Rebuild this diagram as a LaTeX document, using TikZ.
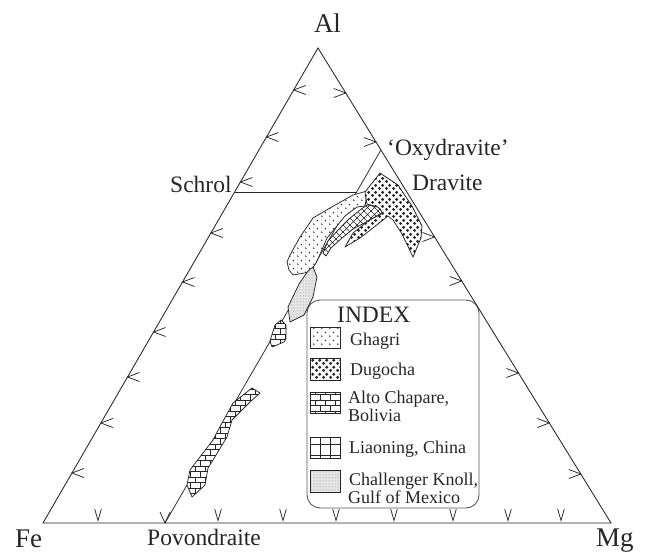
\documentclass[tikz,border=0pt]{standalone}
\usepackage{fontspec}
\setmainfont{Liberation Serif}
\usetikzlibrary{patterns,calc}
\definecolor{ink}{gray}{0.15}
\newcommand\cornerfont{\fontsize{27}{30}\selectfont}
\newcommand\sidefont{\fontsize{23.5}{26}\selectfont}
\newcommand\legfont{\fontsize{18}{20}\selectfont}

\pgfdeclarepatternformonly{ghagri}{\pgfqpoint{0pt}{0pt}}{\pgfqpoint{8pt}{8pt}}{\pgfqpoint{8pt}{8pt}}{%
 \pgfpathcircle{\pgfqpoint{2pt}{2pt}}{0.85pt}%
 \pgfpathcircle{\pgfqpoint{6pt}{6pt}}{0.85pt}%
 \pgfusepath{fill}}
\pgfdeclarepatternformonly{dugocha}{\pgfqpoint{0pt}{0pt}}{\pgfqpoint{7pt}{7pt}}{\pgfqpoint{7pt}{7pt}}{%
 \pgfpathcircle{\pgfqpoint{1.75pt}{1.75pt}}{1.8pt}%
 \pgfpathcircle{\pgfqpoint{5.25pt}{5.25pt}}{1.8pt}%
 \pgfusepath{fill}}
\pgfdeclarepatternformonly{brick}{\pgfqpoint{-0.5pt}{-0.5pt}}{\pgfqpoint{10.5pt}{11.5pt}}{\pgfqpoint{10pt}{11pt}}{%
 \pgfsetlinewidth{0.6pt}%
 \pgfpathmoveto{\pgfqpoint{-0.5pt}{0pt}}\pgfpathlineto{\pgfqpoint{10.5pt}{0pt}}%
 \pgfpathmoveto{\pgfqpoint{-0.5pt}{5.5pt}}\pgfpathlineto{\pgfqpoint{10.5pt}{5.5pt}}%
 \pgfpathmoveto{\pgfqpoint{0pt}{0pt}}\pgfpathlineto{\pgfqpoint{0pt}{5.5pt}}%
 \pgfpathmoveto{\pgfqpoint{5pt}{5.5pt}}\pgfpathlineto{\pgfqpoint{5pt}{11pt}}%
 \pgfusepath{stroke}}
\pgfdeclarepatternformonly{lgrid}{\pgfqpoint{-0.5pt}{-0.5pt}}{\pgfqpoint{10.5pt}{11.5pt}}{\pgfqpoint{10pt}{11pt}}{%
 \pgfsetlinewidth{0.6pt}%
 \pgfpathmoveto{\pgfqpoint{-0.5pt}{0pt}}\pgfpathlineto{\pgfqpoint{10.5pt}{0pt}}%
 \pgfpathmoveto{\pgfqpoint{0pt}{-0.5pt}}\pgfpathlineto{\pgfqpoint{0pt}{11.5pt}}%
 \pgfusepath{stroke}}
\pgfdeclarepatternformonly{xhatch}{\pgfqpoint{-0.5pt}{-0.5pt}}{\pgfqpoint{7.5pt}{7.5pt}}{\pgfqpoint{7pt}{7pt}}{%
 \pgfsetlinewidth{0.6pt}%
 \pgfpathmoveto{\pgfqpoint{-0.5pt}{-0.5pt}}\pgfpathlineto{\pgfqpoint{7.5pt}{7.5pt}}%
 \pgfpathmoveto{\pgfqpoint{-0.5pt}{7.5pt}}\pgfpathlineto{\pgfqpoint{7.5pt}{-0.5pt}}%
 \pgfusepath{stroke}}
\pgfdeclarepatternformonly{stipple}{\pgfqpoint{0pt}{0pt}}{\pgfqpoint{2.5pt}{2.5pt}}{\pgfqpoint{2.5pt}{2.5pt}}{%
 \pgfpathcircle{\pgfqpoint{1.25pt}{1.25pt}}{0.55pt}%
 \pgfusepath{fill}}

\begin{document}
\begin{tikzpicture}[x=1pt,y=-1pt,
  side/.style={draw=ink,line width=0.85pt},
  tick/.style={draw=ink,line width=0.75pt},
  poly/.style={draw=ink,line width=0.75pt,line join=round,preaction={fill=white}},
  chall/.style={draw=ink,line width=0.75pt,line join=round,preaction={fill=black!10}},
  swatch/.style={draw=ink,line width=0.7pt},
  lab/.style={inner sep=0pt,text=ink},
  leg/.style={lab,font=\legfont,anchor=base west}]
\useasboundingbox (0,0) rectangle (646,554);

% corners
\coordinate (Al) at (318,48);
\coordinate (Fe) at (43,523);
\coordinate (Mg) at (611,523);
\coordinate (Po) at (165,523);
\coordinate (Ox) at (380.9,150);
\coordinate (Sc) at ({318-144*0.5789},192);
\coordinate (Sj) at (356.6,192);

% index box
\draw[draw=black!65,line width=0.9pt,rounded corners=13pt] (307,300) rectangle (479,508);

% triangle and internal lines
\draw[side] (Al) -- (Fe) -- (Mg) -- cycle;
\draw[side,line width=0.75pt] (Ox) -- (Po);
\draw[side,line width=0.75pt] (Sc) -- (Sj);

% ticks on left side
\foreach \yy in {90,137,182,233,282,332,377,423,473}
  \draw[tick] ({318-(\yy-48)*0.5789+12},{\yy-4.5}) -- ({318-(\yy-48)*0.5789},\yy) -- ++(12,4.5);
% ticks on right side
\foreach \yy in {93,142,237,281,373,423,474}
  \draw[tick] ({318+(\yy-48)*0.6168-12},{\yy-4.5}) -- ({318+(\yy-48)*0.6168},\yy) -- ++(-12,4.5);
% ticks on base
\foreach \xx in {98,218,283,336,394,453,508,561}
  \draw[tick] (\xx-3.3,509) -- (\xx,520.5) -- (\xx+3.3,509);
\draw[tick] (160,512) -- (Po) -- (170,512);

% Ghagri
\draw[poly,pattern=ghagri,pattern color=ink] (287,262) -- (290,255) -- (300,237) -- (313,218) -- (330,208) -- (353,195) -- (367,191) -- (366,200) -- (365,206) -- (357,207) -- (345,216) -- (337,226) -- (327,238) -- (321,252) -- (316,263) -- (310,272) -- (293,275) -- (289,270) -- cycle;
% Liaoning
\draw[poly,pattern=xhatch,pattern color=ink] (323,253) -- (328,241) -- (340,228) -- (349,219) -- (360,210) -- (367,205) -- (378,207) -- (383,212) -- (370,220) -- (353,229) -- (342,238) -- (331,248) -- (326,256) -- cycle;
% Dugocha
\draw[poly,pattern=dugocha,pattern color=ink] (380,173) -- (398,185) -- (412,206) -- (422,226) -- (421,238) -- (413,257) -- (402,234) -- (393,220) -- (388,216) -- (378,224) -- (360,238) -- (345,247) -- (353,233) -- (368,221) -- (383,213) -- (378,207) -- (367,204) -- (365,192) -- cycle;
% Challenger Knoll
\draw[chall,pattern=stipple,pattern color=black!50] (313,267) -- (317,277) -- (313,297) -- (304,315) -- (290,322) -- (288,307) -- (299,284) -- (308,271) -- cycle;
% Alto Chapare (small)
\draw[poly,pattern=brick,pattern color=ink] (281,320) -- (286,325) -- (286,339) -- (284,342) -- (272,347) -- (270,341) -- (275,325) -- cycle;
% Alto Chapare (long band)
\draw[poly,pattern=brick,pattern color=ink] (252,388) -- (260,393) -- (250,402) -- (232,420) -- (227,437) -- (213,460) -- (208,468) -- (205,485) -- (192,497) -- (187,485) -- (190,470) -- (203,453) -- (213,440) -- (222,423) -- (233,403) -- cycle;

% labels
\node[lab,font=\cornerfont,anchor=base] (lAl) at (327.5,32) {Al};
\node[lab,font=\cornerfont,anchor=base west] (lFe) at (15,547) {Fe};
\node[lab,font=\cornerfont,anchor=base west] (lMg) at (596,546) {Mg};
\node[lab,font=\sidefont,anchor=base west] (lPo) at (147,545) {Povondraite};
\node[lab,font=\sidefont,anchor=base west] (lSc) at (170,192) {Schrol};
\node[lab,font=\sidefont,anchor=base west] (lDr) at (412,190) {Dravite};
\node[lab,font=\sidefont,anchor=base west] (lOx) at (387,155) {‘Oxydravite’};

% legend
\node[lab,font=\sidefont,anchor=base west] (lIdx) at (337,322) {INDEX};
\draw[swatch,pattern=ghagri,pattern color=ink] (310,327) rectangle (340,348);
\node[leg] (lG) at (350,345) {Ghagri};
\draw[swatch,pattern=dugocha,pattern color=ink] (310,358) rectangle (340,380);
\node[leg] (lD) at (350,375) {Dugocha};
\draw[swatch,pattern=brick,pattern color=ink] (310,392) rectangle (340,413);
\node[leg] (lA1) at (348,403) {Alto Chapare,};
\node[leg] (lA2) at (348,421.5) {Bolivia};
\draw[swatch,pattern=lgrid,pattern color=ink] (310,437) rectangle (340,458);
\node[leg] (lL) at (349,453) {Liaoning, China};
\fill[black!10] (310,470) rectangle (340,492);
\fill[pattern=stipple,pattern color=black!50] (310,470) rectangle (340,492);
\draw[swatch] (310,470) rectangle (340,492);
\node[leg] (lC1) at (349,485) {Challenger Knoll,};
\node[leg] (lC2) at (348,503) {Gulf of Mexico};
\end{tikzpicture}
\end{document}
